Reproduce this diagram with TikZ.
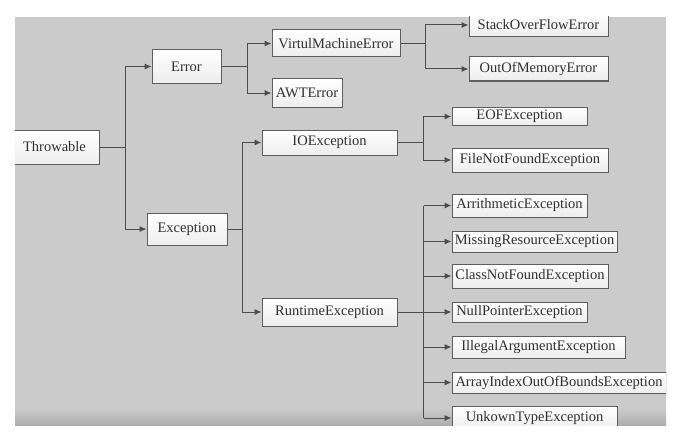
\documentclass[tikz,border=0pt]{standalone}
\usepackage{fontspec}
\setmainfont{Liberation Serif}
\usetikzlibrary{arrows.meta}
\definecolor{bgray}{HTML}{CBCBCB}
\definecolor{edge}{HTML}{5E5E5E}
\definecolor{wire}{HTML}{4C4C4C}
\definecolor{ink}{HTML}{303030}
\begin{document}
\begin{tikzpicture}[x=1pt, y=-1pt,
  main/.style = {draw=edge, line width=1pt, top color=white, bottom color=gray!14, inner sep=0pt, text=ink, font=\fontsize{14.5}{16}\selectfont},
  stem/.style = {draw=wire, line width=1pt},
  link/.style = {stem, -{Latex[length=7pt,width=6pt]}}]
  \useasboundingbox (0,0) rectangle (688,444);
  \fill[bgray] (15,17) rectangle (666,425);
  \shade[top color=bgray, bottom color=black!32] (15,408) rectangle (666,425);
  \begin{scope}
  \clip (15,17) rectangle (666,425);
  % root and first level
  \node[main, minimum width=89pt, minimum height=34pt] (1) at (54.5,147) {Throwable};
  \node[main, minimum width=69pt, minimum height=33pt] (2) at (186.5,66.5) {Error};
  \node[main, minimum width=80pt, minimum height=32pt] (3) at (187,229) {Exception};
  % errors
  \node[main, minimum width=128pt, minimum height=27pt] (4) at (336,43.5) {VirtulMachineError};
  \node[main, minimum width=70pt, minimum height=28pt] (5) at (307,93) {AWTError};
  \node[main, minimum width=139pt, minimum height=24pt] (6) at (538.5,25) {StackOverFlowError};
  \node[main, minimum width=139pt, minimum height=24pt] (7) at (538.5,69) {OutOfMemoryError};
  % exceptions
  \node[main, minimum width=135pt, minimum height=25pt] (8) at (329.5,142.5) {IOException};
  \node[main, minimum width=135pt, minimum height=28pt] (9) at (329.5,312) {RuntimeException};
  \node[main, minimum width=135pt, minimum height=18pt] (10) at (519.5,116.5) {EOFException};
  \node[main, minimum width=156pt, minimum height=24pt] (11) at (530,160) {FileNotFoundException};
  % runtime exceptions
  \node[main, minimum width=135pt, minimum height=23pt] (12) at (519.5,205.5) {ArrithmeticException};
  \node[main, minimum width=165pt, minimum height=21pt] (13) at (534.5,241.5) {MissingResourceException};
  \node[main, minimum width=156pt, minimum height=24pt] (14) at (530,276) {ClassNotFoundException};
  \node[main, minimum width=135pt, minimum height=20pt] (15) at (519.5,312) {NullPointerException};
  \node[main, minimum width=173pt, minimum height=22pt] (16) at (538.5,347) {IllegalArgumentException};
  \node[main, minimum width=214pt, minimum height=21pt] (17) at (559,382.5) {ArrayIndexOutOfBoundsException};
  \node[main, minimum width=165pt, minimum height=23pt] (18) at (534.5,418) {UnkownTypeException};
  % connectors
  \draw[stem] (1.east) -- ++(26,0) coordinate (s1);
  \draw[link] (s1) |- (2.west);
  \draw[link] (s1) |- (3.west);
  \draw[stem] (2.east) -- ++(26,0) coordinate (s2);
  \draw[link] (s2) |- (4.west);
  \draw[link] (s2) |- (5.west);
  \draw[stem] (4.east) -- ++(25,0) coordinate (s4);
  \draw[link] (s4) |- (6.west);
  \draw[link] (s4) |- (7.west);
  \draw[stem] (3.east) -- ++(15,0) coordinate (s3);
  \draw[link] (s3) |- (8.west);
  \draw[link] (s3) |- (9.west);
  \draw[stem] (8.east) -- ++(26,0) coordinate (s8);
  \draw[link] (s8) |- (10.west);
  \draw[link] (s8) |- (11.west);
  \draw[stem] (9.east) -- ++(26,0) coordinate (s9);
  \draw[stem] (s9 |- 12.west) -- (s9 |- 18.west);
  \draw[link] (s9 |- 12.west) -- (12.west);
  \draw[link] (s9 |- 13.west) -- (13.west);
  \draw[link] (s9 |- 14.west) -- (14.west);
  \draw[link] (s9) -- (15.west);
  \draw[link] (s9 |- 16.west) -- (16.west);
  \draw[link] (s9 |- 17.west) -- (17.west);
  \draw[link] (s9 |- 18.west) -- (18.west);
  \end{scope}
\end{tikzpicture}
\end{document}
